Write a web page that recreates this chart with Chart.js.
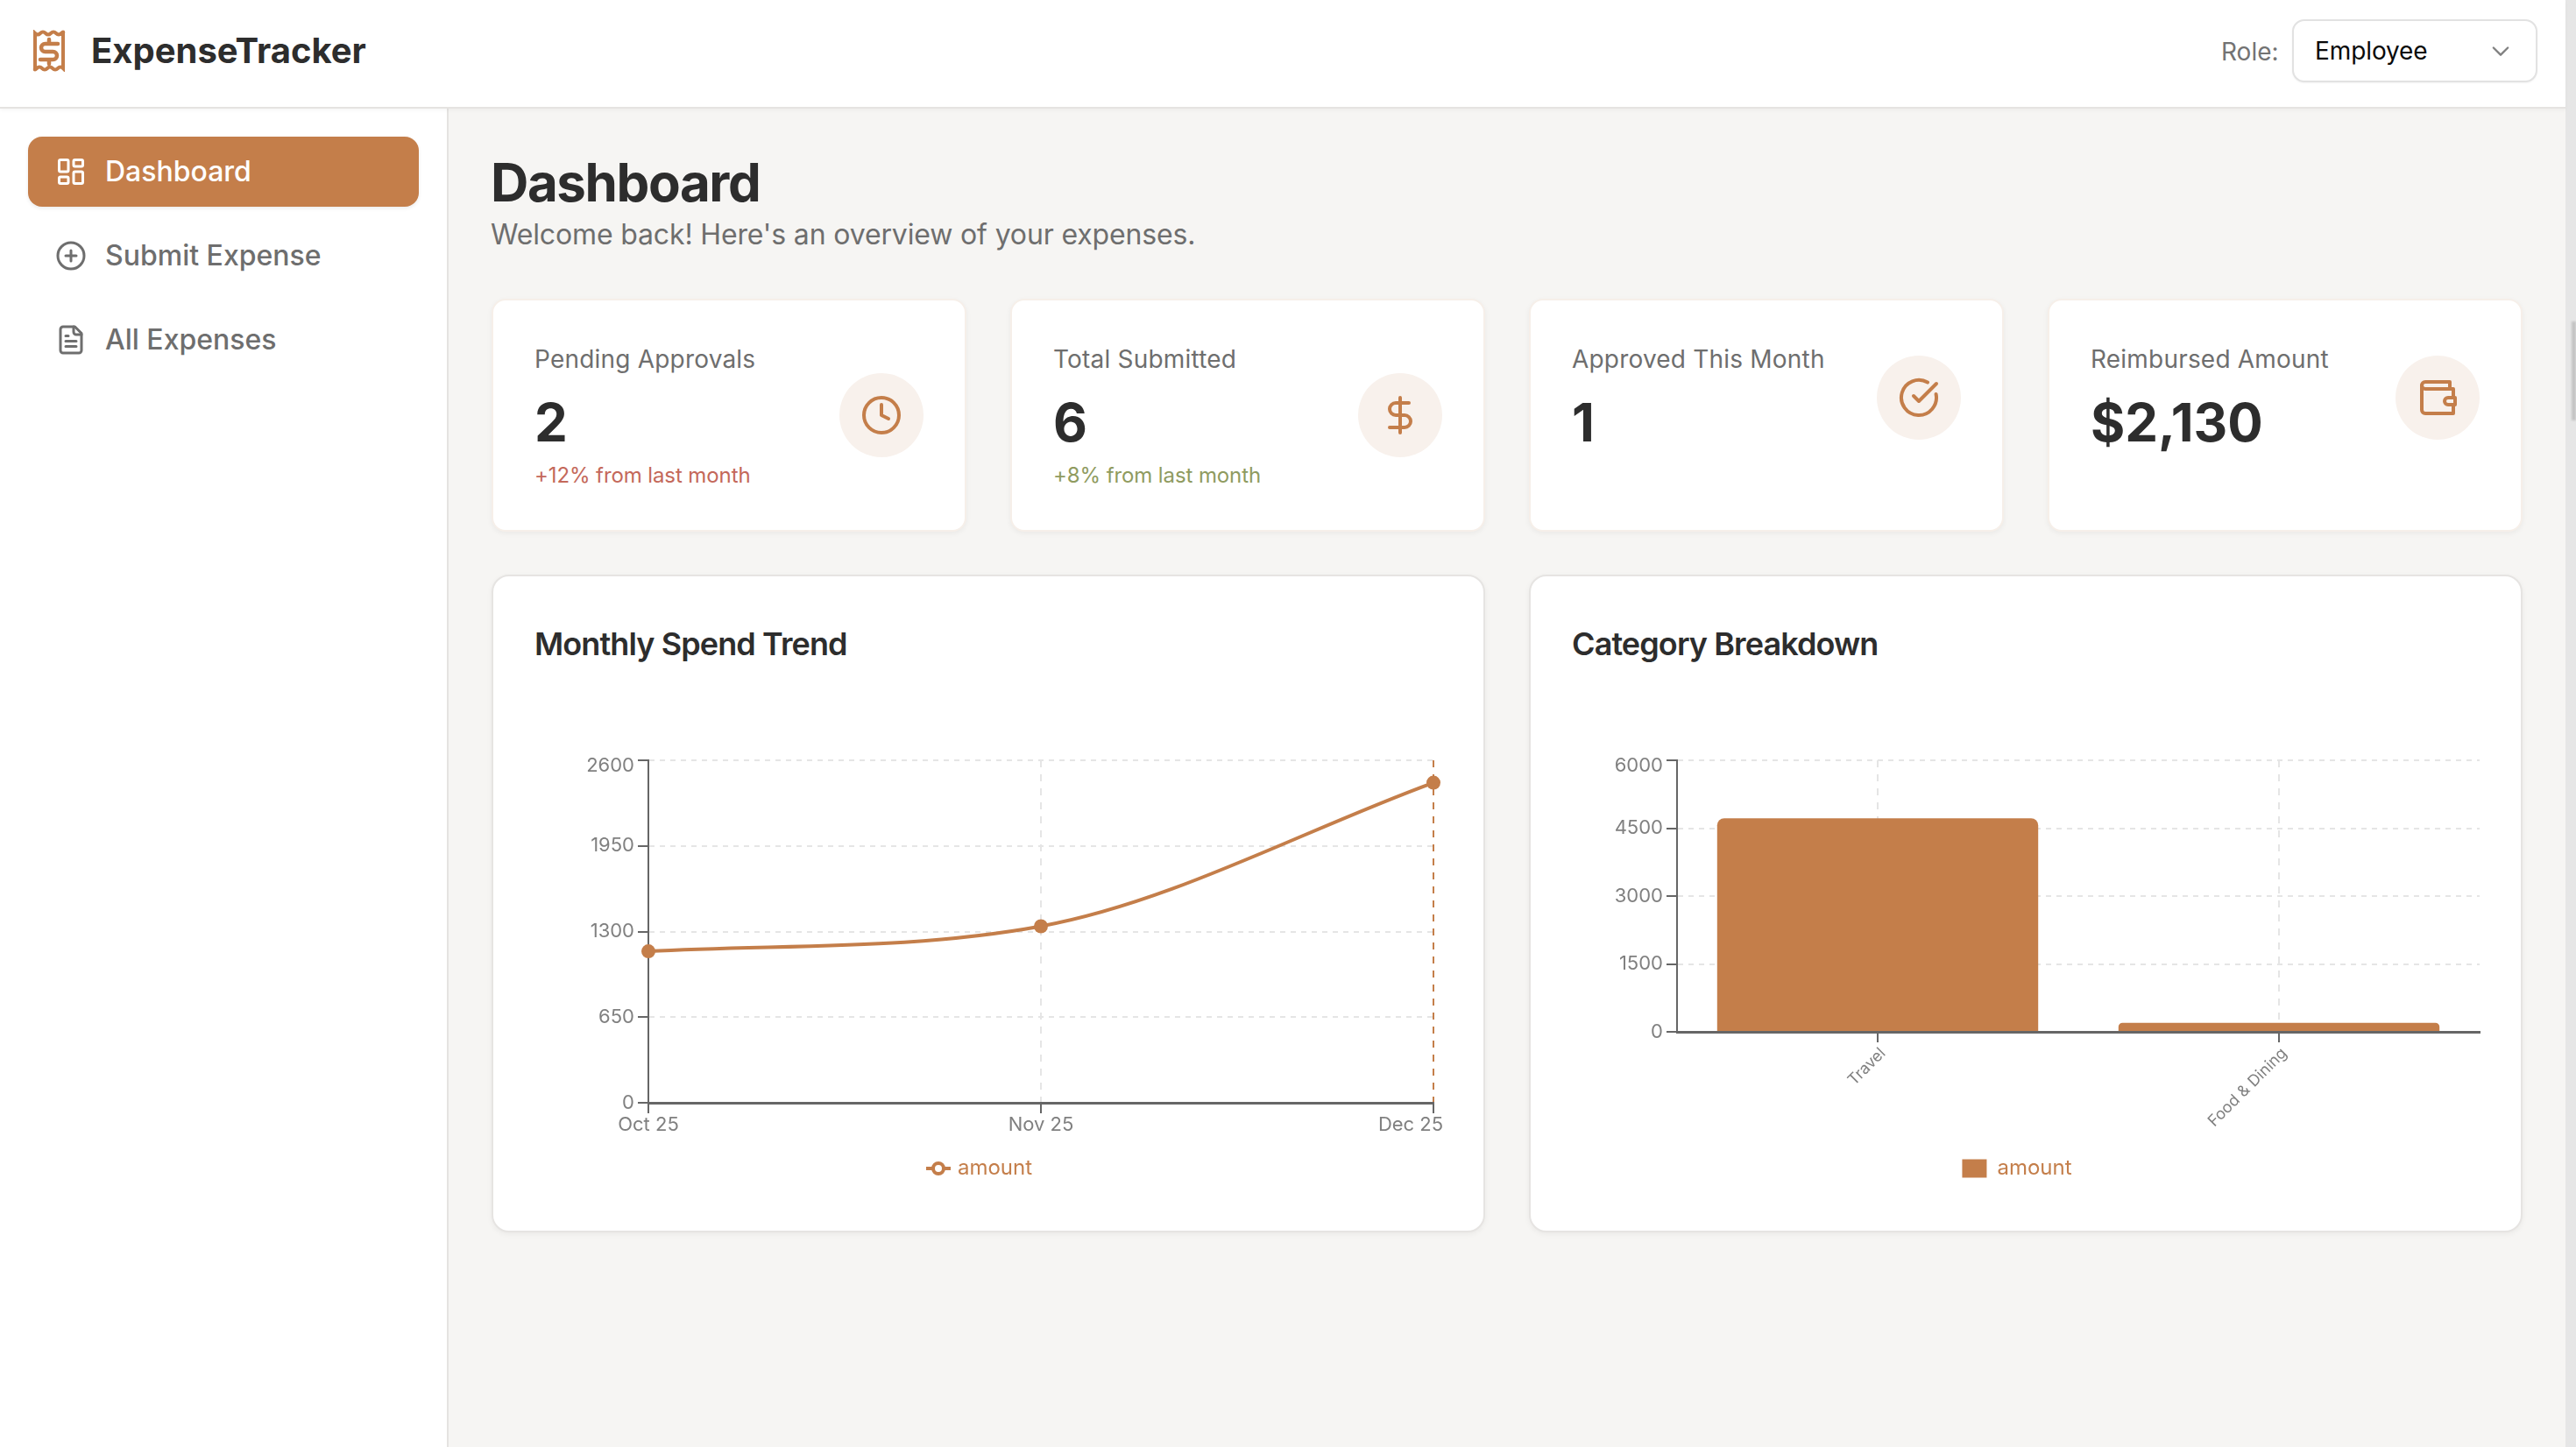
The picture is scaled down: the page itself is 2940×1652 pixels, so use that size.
<!DOCTYPE html>
<html>
<head>
<meta charset="utf-8">
<title>ExpenseTracker</title>
<script src="https://cdn.jsdelivr.net/npm/chart.js@4"></script>
<style>
  * { box-sizing: border-box; }
  html, body { margin: 0; width: 2940px; height: 1652px; overflow: hidden; background: #f6f5f3; font-family: Inter, sans-serif; color: #2d2d2d; }
  .header { position: absolute; left: 0; top: 0; width: 2928px; height: 124px; background: #fff; border-bottom: 2px solid #e5e3e1; box-shadow: 0 2px 4px rgba(0,0,0,.04); z-index: 2; }
  .brand { position: absolute; left: 104px; top: 34px; font-size: 40px; line-height: 48px; font-weight: 700; white-space: nowrap; }
  .role { position: absolute; left: 2535px; top: 42px; font-size: 28px; line-height: 34px; color: #737373; }
  .select { position: absolute; left: 2616px; top: 22px; width: 280px; height: 72px; border: 2px solid #e2e2e2; border-radius: 14px; background: #fff; box-shadow: 0 1px 2px rgba(0,0,0,.05); font-size: 28px; line-height: 34px; letter-spacing: -.1px; color: #0a0a0a; padding: 17px 0 0 24px; }
  .sidebar { position: absolute; left: 0; top: 124px; width: 512px; height: 1528px; background: #fff; border-right: 2px solid #e5e3e1; }
  .nav { position: absolute; left: 32px; width: 446px; height: 80px; border-radius: 16px; font-size: 32px; line-height: 40px; padding: 20px 0 0 88px; color: #6e6e6e; font-weight: 500; white-space: nowrap; }
  .nav.active { background: #c47e4a; color: #fff; box-shadow: 0 2px 4px rgba(0,0,0,.08); }
  .nav svg { position: absolute; left: 31px; top: 22px; width: 36px; height: 36px; }
  h1 { position: absolute; left: 560px; top: 172px; margin: 0; font-size: 60px; line-height: 72px; font-weight: 700; letter-spacing: -1.4px; }
  .sub { position: absolute; left: 560px; top: 248px; font-size: 32px; line-height: 40px; color: #6e6e6e; letter-spacing: -.15px; white-space: nowrap; }
  .card { position: absolute; background: #fff; border: 2px solid #f6efe9; border-radius: 16px; box-shadow: 0 2px 6px rgba(0,0,0,.05); }
  .stat { top: 341px; width: 542px; height: 266px; }
  .stat .label { position: absolute; left: 47px; top: 50px; font-size: 28px; line-height: 34px; letter-spacing: .2px; color: #6e6e6e; white-space: nowrap; }
  .stat .value { position: absolute; left: 47px; top: 103px; font-size: 60px; line-height: 72px; font-weight: 700; }
  .stat .delta { position: absolute; left: 47px; top: 185px; font-size: 24px; line-height: 30px; letter-spacing: -.1px; white-space: nowrap; }
  .stat .circle { position: absolute; left: 395px; width: 96px; height: 96px; border-radius: 50%; background: #f8f1ec; }
  .stat .circle svg { position: absolute; left: 24px; top: 24px; width: 48px; height: 48px; }
  .panel { top: 656px; height: 751px; border-color: #e6e4e2; border-radius: 20px; }
  .panel .title { position: absolute; left: 47px; top: 55px; font-size: 36px; line-height: 44px; font-weight: 600; letter-spacing: -.9px; white-space: nowrap; }
  canvas { position: absolute; z-index: 1; }
  .track { position: absolute; left: 2928px; top: 0; width: 12px; height: 1652px; background: #e6e6e6; }
  .thumb { position: absolute; left: 2935px; top: 367px; width: 5px; height: 113px; background: #c4c4c4; filter: blur(1px); }
  svg { fill: none; stroke-linecap: round; stroke-linejoin: round; }
</style>
</head>
<body>
<div class="track"></div><div class="thumb"></div>

<div class="header">
  <svg style="position:absolute;left:36px;top:34px;width:40px;height:48px" viewBox="0 0 40 48" stroke="#c47e4a" stroke-width="4">
    <path d="M4 4 q3 3 6 0 t6 0 t6 0 t6 0 t6 0 t2 0 V44 q-3 -3 -6 0 t-6 0 t-6 0 t-6 0 t-6 0 t-2 0 Z" stroke-linejoin="miter"/>
    <path d="M20 11v5M20 34v5M30 16H15.5a4.5 4.5 0 0 0 0 9h9a4.5 4.5 0 0 1 0 9H10" stroke-width="4.5"/>
  </svg>
  <div class="brand">ExpenseTracker</div>
  <div class="role">Role:</div>
  <div class="select">Employee
    <svg style="position:absolute;left:222px;top:20px;width:28px;height:28px" viewBox="0 0 24 24" stroke="#808080" stroke-width="2"><path d="m5 9 7 7 7-7"/></svg>
  </div>
</div>

<div class="sidebar"></div>
<div class="nav active" style="top:156px">
  <svg viewBox="0 0 24 24" stroke="#fff" stroke-width="2"><rect x="3" y="3" width="7" height="9" rx="1"/><rect x="14" y="3" width="7" height="5" rx="1"/><rect x="14" y="12" width="7" height="9" rx="1"/><rect x="3" y="16" width="7" height="5" rx="1"/></svg>
  Dashboard</div>
<div class="nav" style="top:252px">
  <svg viewBox="0 0 24 24" stroke="#6e6e6e" stroke-width="2"><circle cx="12" cy="12" r="10"/><path d="M8 12h8M12 8v8"/></svg>
  Submit Expense</div>
<div class="nav" style="top:348px">
  <svg viewBox="0 0 24 24" stroke="#6e6e6e" stroke-width="2"><path d="M15 2H6a2 2 0 0 0-2 2v16a2 2 0 0 0 2 2h12a2 2 0 0 0 2-2V7Z"/><path d="M14 2v4a2 2 0 0 0 2 2h4M10 9H8M16 13H8M16 17H8"/></svg>
  All Expenses</div>

<h1>Dashboard</h1>
<div class="sub">Welcome back! Here's an overview of your expenses.</div>

<div class="card stat" style="left:561px">
  <div class="label">Pending Approvals</div><div class="value">2</div>
  <div class="delta" style="color:#c4685a">+12% from last month</div>
  <div class="circle" style="top:83px"><svg viewBox="0 0 24 24" stroke="#c47e4a" stroke-width="2"><circle cx="12" cy="12" r="10"/><path d="M12 6v6l4 2"/></svg></div>
</div>
<div class="card stat" style="left:1153px">
  <div class="label">Total Submitted</div><div class="value">6</div>
  <div class="delta" style="color:#8f9b5f">+8% from last month</div>
  <div class="circle" style="top:83px"><svg viewBox="0 0 24 24" stroke="#c47e4a" stroke-width="2"><path d="M12 2v20M17 5H9.5a3.5 3.5 0 0 0 0 7h5a3.5 3.5 0 0 1 0 7H6"/></svg></div>
</div>
<div class="card stat" style="left:1745px">
  <div class="label">Approved This Month</div><div class="value">1</div>
  <div class="circle" style="top:63px"><svg viewBox="0 0 24 24" stroke="#c47e4a" stroke-width="2"><path d="M21.8 10A10 10 0 1 1 17 3.3"/><path d="m9 11 3 3L22 4"/></svg></div>
</div>
<div class="card stat" style="left:2337px">
  <div class="label">Reimbursed Amount</div><div class="value">$2,130</div>
  <div class="circle" style="top:63px"><svg viewBox="0 0 24 24" stroke="#c47e4a" stroke-width="2"><path d="M21 12V7H5a2 2 0 0 1 0-4h14v4"/><path d="M3 5v14a2 2 0 0 0 2 2h16v-5"/><path d="M18 12a2 2 0 0 0 0 4h4v-4Z"/></svg></div>
</div>

<div class="card panel" style="left:561px;width:1134px"><div class="title">Monthly Spend Trend</div></div>
<div class="card panel" style="left:1745px;width:1134px"><div class="title">Category Breakdown</div></div>

<canvas id="trendChart" width="1077" height="550" style="left:599px;top:830px"></canvas>
<canvas id="categoryChart" width="1096" height="550" style="left:1774px;top:830px"></canvas>

<script>
const months = ['Oct 25', 'Nov 25', 'Dec 25'];
const monthlyAmounts = [1150, 1340, 2430];
const trendTicks = [0, 650, 1300, 1950, 2600];

const categories = ['Travel', 'Food & Dining'];
const categoryAmounts = [4720, 200];
const categoryTicks = [0, 1500, 3000, 4500, 6000];

const seriesName = 'amount';
const accent = '#c47e4a';
const axisColor = '#666666';
const gridColor = '#e5e5e5';
const tickColor = '#808080';

Chart.defaults.font.family = 'Inter, sans-serif';
Chart.defaults.animation = false;

// legend glyph for the line series, drawn off centre so it lands right of the slot
const lineGlyph = document.createElement('canvas');
lineGlyph.width = 32;
lineGlyph.height = 16;
const g = lineGlyph.getContext('2d');
g.strokeStyle = accent;
g.lineWidth = 4;
g.beginPath();
g.moveTo(4, 8);
g.lineTo(32, 8);
g.stroke();
g.fillStyle = '#fff';
g.beginPath();
g.arc(18, 8, 6, 0, Math.PI * 2);
g.fill();
g.stroke();

// nudge tick labels the way the original sits them
const labelNudge = {
    id: 'labelNudge',
    afterLayout(chart) {
        const opts = chart.options.plugins.labelNudge;
        const yItems = chart.scales.y.getLabelItems();
        yItems[yItems.length - 1].options.translation[1] += 6;
        const xItems = chart.scales.x.getLabelItems();
        xItems.forEach(item => {
            item.options.translation[0] += opts.allX;
            item.options.translation[1] += opts.allY;
        });
        xItems[xItems.length - 1].options.translation[0] -= opts.lastX;
    }
};

function yScale(max, ticks, width) {
    return {
        min: 0,
        max: max,
        afterBuildTicks: s => { s.ticks = ticks.map(value => ({ value })); },
        afterFit: s => { s.width = width; },
        border: { color: axisColor, width: 2, dash: [6, 6] },
        grid: { color: gridColor, lineWidth: 2, tickColor: axisColor, tickLength: 12, tickWidth: 2 },
        ticks: { color: tickColor, padding: 4, font: { size: 22 }, callback: v => String(v) }
    };
}

new Chart(document.getElementById('trendChart'), {
    type: 'line',
    data: {
        labels: months,
        datasets: [{
            label: seriesName,
            data: monthlyAmounts,
            borderColor: accent,
            backgroundColor: accent,
            borderWidth: 4,
            cubicInterpolationMode: 'monotone',
            pointRadius: 8,
            pointBorderWidth: 0,
            pointBackgroundColor: accent
        }]
    },
    options: {
        responsive: false,
        devicePixelRatio: 1,
        layout: { padding: { top: 38, right: 40, bottom: 24, left: 0 } },
        scales: {
            x: {
                afterFit: s => { s.height = 53; },
                border: { color: axisColor, width: 3, dash: [8, 8] },
                grid: {
                    color: ctx => ctx.index === months.length - 1 ? accent : gridColor,
                    lineWidth: 2,
                    tickColor: axisColor,
                    tickLength: 12,
                    tickWidth: 2
                },
                ticks: { color: tickColor, padding: 0, font: { size: 22 }, maxRotation: 0, autoSkip: false }
            },
            y: yScale(2600, trendTicks, 141)
        },
        plugins: {
            labelNudge: { allX: 0, allY: 0, lastX: 26 },
            tooltip: { enabled: false },
            legend: {
                position: 'bottom',
                labels: { color: accent, font: { size: 24 }, usePointStyle: true, pointStyle: lineGlyph, pointStyleWidth: 24, padding: 10 }
            }
        }
    },
    plugins: [labelNudge]
});

new Chart(document.getElementById('categoryChart'), {
    type: 'bar',
    data: {
        labels: categories,
        datasets: [{
            label: seriesName,
            data: categoryAmounts,
            backgroundColor: accent,
            borderRadius: { topLeft: 8, topRight: 8, bottomLeft: 0, bottomRight: 0 },
            borderSkipped: false,
            categoryPercentage: 0.8,
            barPercentage: 1
        }]
    },
    options: {
        responsive: false,
        devicePixelRatio: 1,
        layout: { padding: { top: 38, right: 40, bottom: 24, left: 0 } },
        scales: {
            x: {
                afterFit: s => { s.height = 134; },
                border: { color: axisColor, width: 3, dash: [8, 8] },
                grid: { offset: false, color: gridColor, lineWidth: 2, tickColor: axisColor, tickLength: 12, tickWidth: 2 },
                ticks: { color: tickColor, padding: 4, font: { size: 18 }, minRotation: 45, maxRotation: 45, autoSkip: false }
            },
            // right edge of the grid
            x2: {
                type: 'linear',
                min: 0,
                max: 1,
                position: 'bottom',
                afterBuildTicks: s => { s.ticks = [{ value: 1 }]; },
                afterFit: s => { s.height = 0; },
                border: { display: false, dash: [8, 8] },
                grid: { color: gridColor, lineWidth: 2, drawTicks: false },
                ticks: { display: false }
            },
            y: yScale(6000, categoryTicks, 140)
        },
        plugins: {
            labelNudge: { allX: 6, allY: -2, lastX: 0 },
            tooltip: { enabled: false },
            legend: {
                position: 'bottom',
                labels: { color: accent, font: { size: 24 }, boxWidth: 28, boxHeight: 21, padding: 10 }
            }
        }
    },
    plugins: [labelNudge]
});
</script>
</body>
</html>
